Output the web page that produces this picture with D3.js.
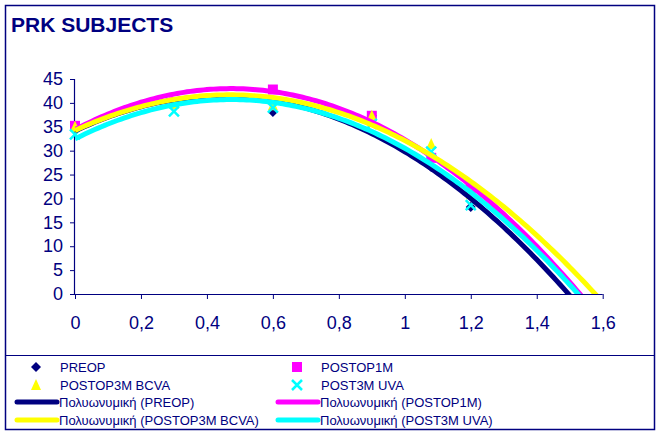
<!DOCTYPE html>
<html><head><meta charset="utf-8">
<script src="https://cdn.jsdelivr.net/npm/d3@7"></script>
<style>body{margin:0;background:#fff}text{font-family:"Liberation Sans",Arial,sans-serif}</style>
</head><body>
<svg id="c" width="657" height="435"></svg>
<script>
const title = "PRK SUBJECTS";
const xValues = [0, 0.3, 0.6, 0.9, 1.08, 1.2];
const preop = [34.9, 39.8, 38.1, 37.3, 26.6, 18.2];
const postop1m = [35.2, 40.1, 42.8, 37.3, 28.5, 22.2];
const postop3mBcva = [35.0, 39.8, 39.5, 37.3, 31.4, 21.0];
const post3mUva = [33.4, 38.2, 39.0, 35.6, 29.8, 18.6];
const seriesNames = ["PREOP", "POSTOP1M", "POSTOP3M BCVA", "POST3M UVA"];
const trendPrefix = "Πολυωνυμική";
const yTicks = [0, 5, 10, 15, 20, 25, 30, 35, 40, 45];
const xTicks = [0, 0.2, 0.4, 0.6, 0.8, 1, 1.2, 1.4, 1.6];

const colors = ["#000080", "#FF00FF", "#FFFF00", "#00FFFF"];
const shapes = ["diamond", "square", "triangle", "x"];
const seriesVals = [preop, postop1m, postop3mBcva, post3mUva];
const navy = "#000080";

const svg = d3.select("#c");
svg.append("rect").attr("x", 5.5).attr("y", 5.5).attr("width", 649).attr("height", 424)
  .attr("fill", "#fff").attr("stroke", navy).attr("stroke-width", 1.5);

svg.append("text").attr("x", 11).attr("y", 32).attr("fill", navy)
  .attr("font-size", 21).attr("font-weight", "bold").text(title);

const x = d3.scaleLinear().domain([0, 1.6]).range([75, 602.7]);
const y = d3.scaleLinear().domain([0, 45]).range([294, 79]);

const yAxis = svg.append("g").attr("transform", "translate(75,0)")
  .call(d3.axisLeft(y).tickValues(yTicks).tickSize(5).tickPadding(7).tickFormat(d => String(d)));
const xAxis = svg.append("g").attr("transform", "translate(0,294)")
  .call(d3.axisBottom(x).tickValues(xTicks).tickSize(5).tickPadding(17)
    .tickFormat(d => String(+d.toFixed(1)).replace(".", ",")));
[yAxis, xAxis].forEach(g => {
  g.select(".domain").attr("stroke", navy).attr("stroke-width", 1.2);
  g.selectAll(".tick line").attr("stroke", navy).attr("stroke-width", 1);
  g.selectAll(".tick text").attr("fill", navy).attr("font-size", 18)
    .attr("font-family", "Liberation Sans, Arial, sans-serif");
});
xAxis.select(".domain").attr("d", `M75,0.5H602.7`);
yAxis.select(".domain").attr("d", `M-0.5,294V79`);

function symbolPath(shape, size) {
  const s = size / 2;
  if (shape === "diamond") return `M0,${-s}L${s},0L0,${s}L${-s},0Z`;
  if (shape === "square") return `M${-s},${-s}H${s}V${s}H${-s}Z`;
  if (shape === "triangle") return `M0,${-s * 1.2}L${s},${s}L${-s},${s}Z`;
  return `M${-s},${-s}L${s},${s}M${s},${-s}L${-s},${s}`;
}
function drawMarker(g, shape, color, cx, cy) {
  const sizes = {diamond: 10, square: 10, triangle: 10, x: 10};
  const p = g.append("path").attr("transform", `translate(${cx},${cy})`)
    .attr("d", symbolPath(shape, sizes[shape]));
  if (shape === "x") p.attr("fill", "none").attr("stroke", color).attr("stroke-width", 2.5);
  else p.attr("fill", color);
}

const mg = svg.append("g");
seriesVals.forEach((vals, i) => {
  vals.forEach((v, j) => drawMarker(mg, shapes[i], colors[i], x(xValues[j]), y(v)));
});

// order-2 polynomial least-squares trendline
function polyFit(xs, ys) {
  let s = [0, 0, 0, 0, 0], t = [0, 0, 0];
  xs.forEach((xv, k) => {
    for (let p = 0; p < 5; p++) s[p] += Math.pow(xv, p);
    for (let p = 0; p < 3; p++) t[p] += ys[k] * Math.pow(xv, p);
  });
  const A = [[s[0], s[1], s[2], t[0]], [s[1], s[2], s[3], t[1]], [s[2], s[3], s[4], t[2]]];
  for (let i = 0; i < 3; i++) {
    for (let r = i + 1; r < 3; r++) {
      const f = A[r][i] / A[i][i];
      for (let c = i; c < 4; c++) A[r][c] -= f * A[i][c];
    }
  }
  const c = [0, 0, 0];
  for (let i = 2; i >= 0; i--) {
    let sum = A[i][3];
    for (let k = i + 1; k < 3; k++) sum -= A[i][k] * c[k];
    c[i] = sum / A[i][i];
  }
  return c;
}

svg.append("clipPath").attr("id", "pc").append("rect")
  .attr("x", 75).attr("y", 60).attr("width", 530).attr("height", 234);
const lg = svg.append("g").attr("clip-path", "url(#pc)");
const line = d3.line().x(d => x(d[0])).y(d => y(d[1]));
[0, 1, 2, 3].forEach(i => {
  const c = polyFit(xValues, seriesVals[i]);
  const pts = d3.range(0, 1.6001, 0.01).map(xv => [xv, c[0] + c[1] * xv + c[2] * xv * xv]);
  lg.append("path").attr("d", line(pts)).attr("fill", "none")
    .attr("stroke", colors[i]).attr("stroke-width", 5);
});

// legend
svg.append("line").attr("x1", 5).attr("x2", 655).attr("y1", 355.5).attr("y2", 355.5)
  .attr("stroke", navy).attr("stroke-width", 1.2);
const leg = svg.append("g");
const colX = [17, 278];
const rowY = [367, 385, 402, 420];
const items = [];
seriesNames.forEach((n, i) => items.push({type: "marker", i, label: n}));
seriesNames.forEach((n, i) => items.push({type: "line", i, label: `${trendPrefix} (${n})`}));
items.forEach((it, k) => {
  const col = k % 2, row = Math.floor(k / 2);
  const cx = colX[col], cy = rowY[row];
  if (it.type === "marker") {
    drawMarker(leg, shapes[it.i], colors[it.i], cx + 19, cy);
    leg.append("text").attr("x", cx + 43).attr("y", cy + 5).attr("fill", navy)
      .attr("font-size", 13).text(it.label);
  } else {
    leg.append("line").attr("x1", cx).attr("x2", cx + 40).attr("y1", cy).attr("y2", cy)
      .attr("stroke", colors[it.i]).attr("stroke-width", 5).attr("stroke-linecap", "round");
    leg.append("text").attr("x", cx + 42).attr("y", cy + 5).attr("fill", navy)
      .attr("font-size", 13).text(it.label);
  }
});
</script>
</body></html>
